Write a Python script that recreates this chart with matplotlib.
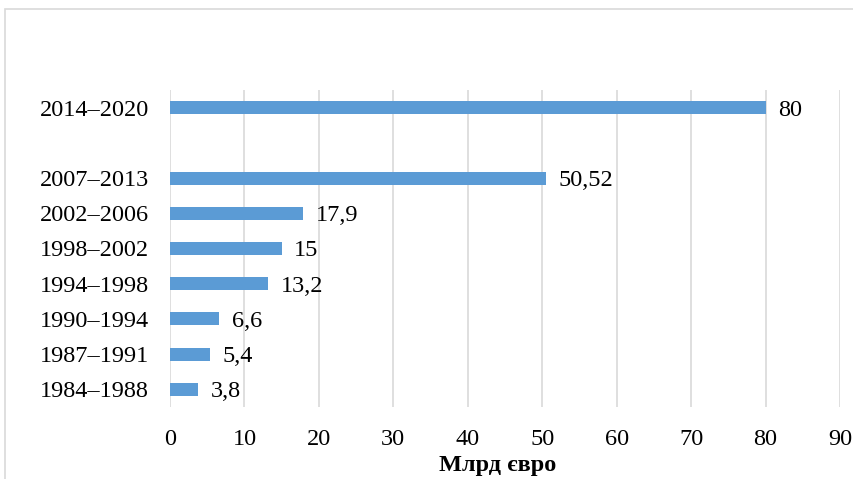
import matplotlib
matplotlib.use("Agg")
import matplotlib.pyplot as plt
import numpy as np
from matplotlib.patches import Rectangle

periods = ["1984–1988", "1987–1991", "1990–1994", "1994–1998", "1998–2002",
           "2002–2006", "2007–2013", "", "2014–2020"]
values = [3.8, 5.4, 6.6, 13.2, 15, 17.9, 50.52, np.nan, 80]
value_labels = ["3,8", "5,4", "6,6", "13,2", "15", "17,9", "50,52", "", "80"]
xticks = [0, 10, 20, 30, 40, 50, 60, 70, 80, 90]

plt.rcParams['font.family'] = ['Liberation Serif', 'DejaVu Serif']

fig = plt.figure(figsize=(8.54, 4.79), dpi=100)
W, H = 854, 479
ax = fig.add_axes([170 / W, 1 - 407 / H, (840 - 170) / W, (407 - 90) / H])

y = np.arange(len(periods))
ax.barh(y, values, height=0.37, color='#5B9BD5', zorder=3)
for yi, v, lab in zip(y, values, value_labels):
    if lab:
        ax.annotate(lab, (v, yi), xytext=(9, 0), textcoords='offset points',
                    va='center_baseline', ha='left', fontsize=17.5, color='#000000')

ax.set_xlim(0, 90)
ax.set_ylim(-0.5, len(periods) - 0.5)
ax.set_xticks(xticks)
ax.set_xticklabels([str(t) for t in xticks], fontsize=17.5)
ax.set_yticks(y)
ax.set_yticklabels(periods, fontsize=17.5, va='center_baseline')
ax.tick_params(axis='x', length=0, pad=16)
ax.tick_params(axis='y', length=0, pad=15)
ax.grid(axis='x', color='#d9d9d9', linewidth=1.2, zorder=0)
for s in ax.spines.values():
    s.set_visible(False)
ax.set_xlabel("Млрд євро", fontsize=17.5, fontweight='bold', va='center')
ax.xaxis.set_label_coords((498 - 170) / 670, -(466 - 407) / 317)

fig.patches.append(Rectangle((5 / W, -0.1), 1.2, 1 - 9 / H + 0.1,
                             transform=fig.transFigure, fill=False,
                             edgecolor='#d9d9d9', linewidth=1.2))

fig.savefig("out.png", dpi=100)
